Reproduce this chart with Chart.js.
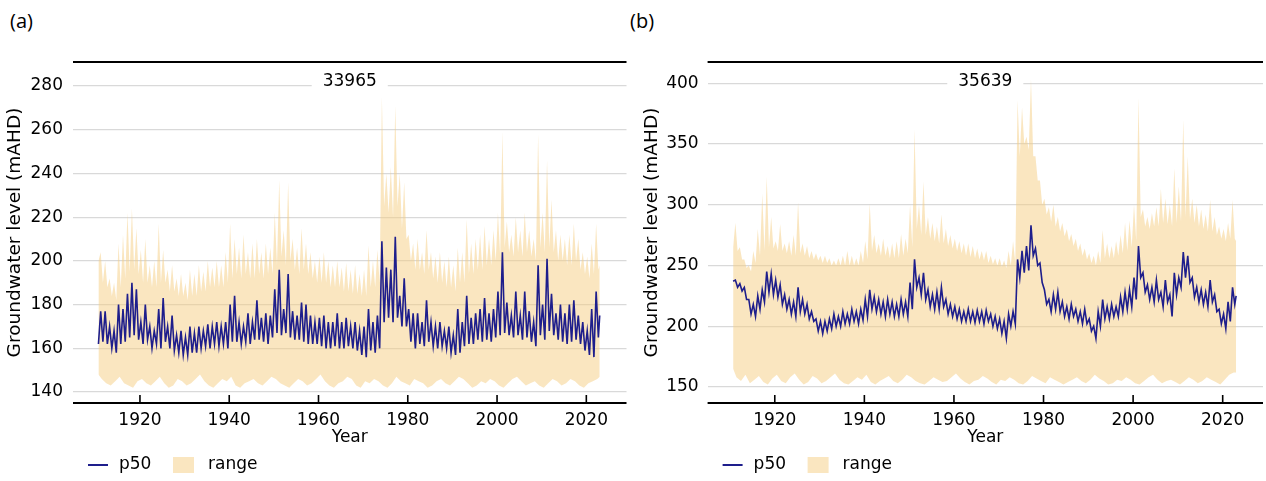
<!DOCTYPE html>
<html lang="en">
<head>
<meta charset="UTF-8">
<title>Groundwater level, bores 33965 and 35639</title>
<script src="https://cdn.jsdelivr.net/npm/chart.js"></script>
<style>
  body { margin: 0; background: #fff; width: 1266px; height: 481px; position: relative; overflow: hidden; }
  canvas { position: absolute; top: 0; }
  .tag { position: absolute; top: 7px; font: 20px "Open Sans", sans-serif; color: #000; }
</style>
</head>
<body>
<div class="tag" style="left:10px">(a)</div>
<div class="tag" style="left:630px">(b)</div>
<canvas id="chartA" width="633" height="481" style="left:0;width:633px;height:481px"></canvas>
<canvas id="chartB" width="633" height="481" style="left:633px;width:633px;height:481px"></canvas>
<script>
// one peak (≈ year+0.2) and one low (≈ year+0.7) per year, 1911..2022
const firstYear = 1911;
const xTicks = [1920, 1940, 1960, 1980, 2000, 2020];

// ---- bore 33965 ----
const yTicksA = [140, 160, 180, 200, 220, 240, 260, 280];
const p50PeakA = [
  177, 177, 170, 168, 180, 178, 185, 190, 187, 172,
  180, 170, 168, 178, 183, 170, 175, 166, 168, 165,
  170, 167, 170, 168, 171, 170, 172, 170, 172, 180,
  184, 172, 170, 176, 172, 182, 174, 176, 175, 187,
  196, 178, 194, 177, 175, 181, 180, 175, 172, 174,
  175, 172, 172, 176, 172, 174, 170, 172, 168, 170,
  178, 172, 175, 209, 197, 196, 211, 184, 192, 178,
  176, 176, 172, 182, 172, 170, 172, 168, 170, 166,
  178, 172, 184, 174, 176, 178, 183, 176, 178, 186,
  204, 181, 175, 186, 175, 186, 177, 172, 198, 180,
  201, 185, 176, 180, 176, 180, 182, 175, 172, 168,
  178, 186];
const p50LowA = [
  163, 162, 160, 158, 162, 163, 165, 166, 164, 162,
  164, 160, 162, 160, 163, 160, 159, 158, 157, 157,
  158, 158, 160, 161, 160, 162, 161, 162, 160, 163,
  163, 162, 163, 162, 164, 164, 163, 162, 165, 167,
  166, 167, 165, 164, 164, 163, 162, 162, 162, 161,
  160, 160, 161, 160, 160, 161, 160, 159, 157, 156,
  159, 158, 160, 172, 174, 172, 174, 170, 170, 163,
  160, 162, 161, 163, 161, 160, 161, 160, 158, 157,
  158, 161, 162, 162, 164, 163, 164, 163, 165, 166,
  167, 166, 165, 166, 164, 165, 163, 161, 166, 164,
  168, 166, 164, 163, 162, 163, 164, 162, 159, 157,
  156, 165];
const p50EndsA = [162, 175];
const topPeakA = [
  204, 200, 192, 190, 208, 212, 222, 224, 215, 205,
  210, 198, 200, 217, 205, 196, 198, 192, 194, 190,
  196, 194, 198, 195, 200, 197, 200, 198, 204, 217,
  210, 206, 212, 204, 208, 210, 204, 208, 206, 222,
  237, 214, 236, 210, 206, 215, 208, 204, 200, 202,
  204, 200, 198, 200, 197, 199, 196, 198, 194, 196,
  207, 200, 205, 275, 240, 243, 271, 240, 236, 212,
  208, 210, 204, 214, 204, 202, 204, 200, 202, 198,
  206, 204, 219, 208, 210, 212, 216, 210, 214, 222,
  259, 218, 212, 220, 214, 222, 214, 210, 258, 222,
  246, 228, 214, 212, 210, 212, 217, 210, 204, 202,
  208, 217];
const topLowA = [
  190, 188, 184, 182, 188, 192, 195, 196, 194, 190,
  190, 188, 188, 190, 190, 186, 186, 184, 184, 182,
  184, 184, 186, 186, 188, 188, 188, 188, 190, 192,
  194, 192, 194, 192, 192, 194, 192, 194, 194, 198,
  202, 198, 200, 196, 194, 196, 194, 192, 190, 190,
  190, 188, 188, 188, 186, 186, 185, 185, 184, 184,
  188, 188, 190, 225, 222, 220, 225, 215, 210, 200,
  196, 196, 194, 196, 192, 190, 190, 188, 188, 186,
  190, 190, 194, 194, 196, 196, 198, 198, 200, 202,
  206, 204, 202, 204, 202, 204, 202, 200, 206, 204,
  206, 204, 200, 200, 198, 198, 200, 196, 194, 192,
  194, 196];
const topEndsA = [200, 198];
const bottomA = [
  146, 144, 143, 145, 147, 144, 143, 142, 145, 146,
  144, 143, 145, 147, 144, 142, 143, 146, 145, 143,
  144, 146, 148, 145, 143, 142, 144, 146, 145, 147,
  143, 142, 144, 145, 146, 144, 143, 145, 147, 146,
  144, 143, 142, 144, 146, 145, 143, 144, 146, 148,
  145, 143, 142, 144, 145, 147, 146, 143, 142, 145,
  144, 146, 145, 143, 142, 144, 147, 145, 144, 143,
  146, 145, 144, 142, 143, 145, 146, 144, 143, 145,
  147, 146, 144, 142, 143, 145, 144, 146, 145, 143,
  142, 144, 146, 147, 145, 143, 144, 145, 143, 142,
  144, 146, 145, 143, 144, 146, 145, 143, 142, 144,
  145, 146];
const bottomEndsA = [148, 147];

// ---- bore 35639 ----
const yTicksB = [150, 200, 250, 300, 350, 400];
const p50PeakB = [
  238, 235, 232, 222, 218, 225, 230, 245, 243, 238,
  234, 226, 222, 220, 232, 222, 218, 212, 206, 204,
  204, 206, 210, 208, 212, 210, 214, 212, 214, 222,
  230, 224, 222, 220, 222, 220, 218, 222, 220, 236,
  255, 240, 244, 230, 226, 228, 232, 222, 218, 216,
  214, 212, 214, 212, 213, 212, 213, 210, 208, 206,
  204, 210, 212, 255, 262, 266, 283, 264, 252, 230,
  222, 226, 228, 220, 216, 218, 214, 212, 214, 206,
  200, 212, 222, 216, 218, 216, 224, 228, 230, 240,
  266, 244, 234, 232, 238, 228, 238, 226, 244, 240,
  261, 258, 240, 232, 230, 228, 238, 226, 214, 210,
  220, 232];
const p50LowB = [
  232, 229, 222, 210, 208, 214, 220, 228, 226, 224,
  218, 214, 210, 208, 212, 210, 206, 204, 196, 194,
  196, 198, 200, 200, 202, 202, 204, 202, 205, 208,
  214, 212, 210, 208, 210, 208, 208, 210, 208, 214,
  232, 226, 222, 216, 214, 214, 216, 210, 208, 206,
  204, 204, 204, 203, 204, 202, 204, 200, 198, 194,
  190, 200, 202, 240, 244, 246, 258, 250, 236, 218,
  212, 214, 212, 208, 206, 208, 204, 202, 202, 196,
  190, 200, 206, 206, 208, 208, 212, 214, 216, 222,
  240, 228, 222, 220, 222, 216, 220, 208, 226, 232,
  240, 236, 224, 220, 218, 216, 220, 212, 202, 198,
  204, 218];
const p50EndsB = [237, 225];
const topPeakB = [
  285, 265, 255, 250, 262, 280, 309, 323, 290, 270,
  284, 268, 270, 275, 302, 268, 266, 262, 260, 258,
  258, 256, 254, 256, 258, 262, 258, 256, 262, 270,
  301, 275, 268, 272, 266, 268, 270, 276, 272, 300,
  362, 300, 319, 290, 285, 282, 292, 280, 275, 272,
  270, 268, 268, 266, 264, 262, 262, 258, 256, 256,
  254, 262, 270, 386, 380, 356, 403, 340, 320, 305,
  298, 300, 290, 285, 280, 276, 272, 268, 264, 260,
  258, 262, 279, 268, 266, 270, 275, 285, 287, 300,
  388, 296, 290, 293, 298, 313, 305, 300, 330, 315,
  370, 340, 305, 300, 296, 292, 304, 290, 282, 280,
  285, 304];
const topLowB = [
  262, 255, 248, 245, 252, 258, 262, 265, 264, 262,
  262, 260, 258, 258, 260, 258, 256, 255, 254, 252,
  252, 250, 250, 250, 250, 250, 250, 250, 252, 255,
  262, 260, 258, 258, 256, 256, 256, 258, 260, 265,
  280, 275, 275, 272, 270, 268, 268, 266, 264, 262,
  260, 258, 257, 256, 255, 254, 252, 251, 250, 249,
  248, 250, 252, 340, 350, 345, 340, 320, 300, 292,
  286, 282, 278, 274, 270, 266, 262, 258, 255, 252,
  250, 252, 256, 256, 256, 258, 260, 262, 265, 270,
  290, 282, 280, 282, 282, 285, 284, 282, 285, 286,
  290, 288, 285, 282, 280, 278, 278, 275, 272, 270,
  272, 272];
const topEndsB = [265, 270];
const bottomB = [
  158, 155, 160, 153, 156, 159, 154, 152, 157, 160,
  155, 153, 158, 161, 156, 152, 154, 159, 157, 153,
  155, 158, 161, 156, 153, 152, 155, 158, 156, 160,
  154, 152, 155, 157, 159, 155, 153, 156, 160, 158,
  155, 153, 152, 155, 158, 156, 154, 155, 158, 161,
  157, 154, 152, 155, 156, 159, 157, 154, 152, 156,
  155, 158, 156, 153, 152, 155, 159, 157, 155, 153,
  158, 156, 154, 152, 154, 156, 158, 155, 153, 156,
  160, 157, 155, 152, 153, 156, 155, 158, 156, 153,
  152, 155, 158, 160, 156, 153, 155, 156, 154, 152,
  155, 158, 156, 153, 155, 158, 156, 154, 152, 156,
  160, 162];
const bottomEndsB = [165, 162];

const lineColor = '#1e1e8c';
const bandColor = 'rgba(245, 205, 130, 0.5)';

Chart.defaults.font.family = '"DejaVu Sans", sans-serif';
Chart.defaults.color = '#000';

let buildSeries = (peaks, lows, ends) => {
    const pts = [{ x: firstYear - 0.3, y: ends[0] }];
    peaks.forEach((v, i) => {
        pts.push({ x: firstYear + i + 0.2, y: v });
        pts.push({ x: firstYear + i + 0.7, y: lows[i] });
    });
    pts.push({ x: firstYear + peaks.length, y: ends[1] });
    return pts;
}

let buildYearly = (vals, ends) => {
    const pts = [{ x: firstYear - 0.3, y: ends[0] }];
    vals.forEach((v, i) => pts.push({ x: firstYear + i + 0.45, y: v }));
    pts.push({ x: firstYear + vals.length, y: ends[1] });
    return pts;
}

// spines, inward x ticks, boxed panel title and the legend
const panelDecor = {
    id: 'panelDecor',
    afterDraw(chart, args, opts) {
        const { ctx, chartArea: a, scales: { x } } = chart;
        ctx.save();
        ctx.strokeStyle = '#000';
        ctx.lineWidth = 2;
        ctx.beginPath();
        ctx.moveTo(a.left, a.top); ctx.lineTo(a.right, a.top);
        ctx.moveTo(a.left, a.bottom); ctx.lineTo(a.right, a.bottom);
        ctx.stroke();

        ctx.lineWidth = 1.6;
        ctx.beginPath();
        x.ticks.forEach(t => {
            const px = x.getPixelForValue(t.value);
            ctx.moveTo(px, a.bottom);
            ctx.lineTo(px, a.bottom - 8);
        });
        ctx.stroke();

        ctx.font = '17px "DejaVu Sans"';
        const cx = (a.left + a.right) / 2;
        const w = ctx.measureText(opts.title).width;
        ctx.fillStyle = '#fff';
        ctx.fillRect(cx - w / 2 - 11, opts.titleY - 10, w + 22, 20);
        ctx.fillStyle = '#000';
        ctx.textAlign = 'center';
        ctx.textBaseline = 'middle';
        ctx.fillText(opts.title, cx, opts.titleY);

        const lx = a.left + 15, ly = 465;
        ctx.strokeStyle = lineColor;
        ctx.lineWidth = 2;
        ctx.beginPath();
        ctx.moveTo(lx, ly); ctx.lineTo(lx + 20, ly);
        ctx.stroke();
        ctx.fillStyle = bandColor;
        ctx.fillRect(lx + 85, ly - 8, 21, 16);
        ctx.fillStyle = '#000';
        ctx.textAlign = 'left';
        ctx.fillText(chart.data.datasets[0].label, lx + 31, ly);
        ctx.fillText(chart.data.datasets[1].label, lx + 120, ly);
        ctx.restore();
    }
};

let makeChart = (id, cfg) => new Chart(document.getElementById(id), {
    type: 'line',
    data: {
        datasets: [
            { label: 'p50', data: buildSeries(cfg.p50Peak, cfg.p50Low, cfg.p50Ends),
              borderColor: lineColor, borderWidth: 1.6, pointRadius: 0, fill: false, order: 0 },
            { label: 'range', data: buildSeries(cfg.topPeak, cfg.topLow, cfg.topEnds),
              borderWidth: 0, backgroundColor: bandColor, pointRadius: 0, fill: '+1', order: 1 },
            { label: 'range low', data: buildYearly(cfg.bottom, cfg.bottomEnds),
              borderWidth: 0, pointRadius: 0, fill: false, order: 2 }
        ]
    },
    options: {
        responsive: false,
        animation: false,
        events: [],
        devicePixelRatio: 1,
        layout: { padding: { left: 0, right: cfg.padRight, top: 62, bottom: 0 } },
        plugins: {
            legend: { display: false },
            tooltip: { enabled: false },
            panelDecor: { title: cfg.title, titleY: 82 }
        },
        scales: {
            x: {
                type: 'linear', min: 1905, max: 2029,
                afterBuildTicks: s => { s.ticks = xTicks.map(v => ({ value: v })); },
                afterFit: s => { s.height = 78; },
                grid: { display: false, drawTicks: false },
                border: { display: false },
                ticks: { padding: 7, font: { size: 17 }, callback: v => String(v) },
                title: { display: true, text: 'Year', font: { size: 17 }, padding: { bottom: 33 } }
            },
            y: {
                min: cfg.yMin, max: cfg.yMax,
                afterBuildTicks: s => { s.ticks = cfg.yTicks.map(v => ({ value: v })); },
                afterFit: s => { s.width = cfg.yWidth; },
                grid: { color: '#d9d9d9', lineWidth: 1.2, drawTicks: false },
                border: { display: false },
                ticks: { padding: cfg.tickPad, font: { size: 17 }, callback: v => String(v) },
                title: { display: true, text: 'Groundwater level (mAHD)', font: { size: 18.5 },
                         padding: { top: cfg.titlePad } }
            }
        }
    },
    plugins: [panelDecor]
});

makeChart('chartA', {
    title: '33965', p50Peak: p50PeakA, p50Low: p50LowA, p50Ends: p50EndsA,
    topPeak: topPeakA, topLow: topLowA, topEnds: topEndsA, bottom: bottomA, bottomEnds: bottomEndsA,
    yTicks: yTicksA, yMin: 135, yMax: 291, yWidth: 73, padRight: 6.5, tickPad: 10, titlePad: 4
});
makeChart('chartB', {
    title: '35639', p50Peak: p50PeakB, p50Low: p50LowB, p50Ends: p50EndsB,
    topPeak: topPeakB, topLow: topLowB, topEnds: topEndsB, bottom: bottomB, bottomEnds: bottomEndsB,
    yTicks: yTicksB, yMin: 136.8, yMax: 417.5, yWidth: 74.6, padRight: 3, tickPad: 9, titlePad: 8
});
</script>
</body>
</html>
